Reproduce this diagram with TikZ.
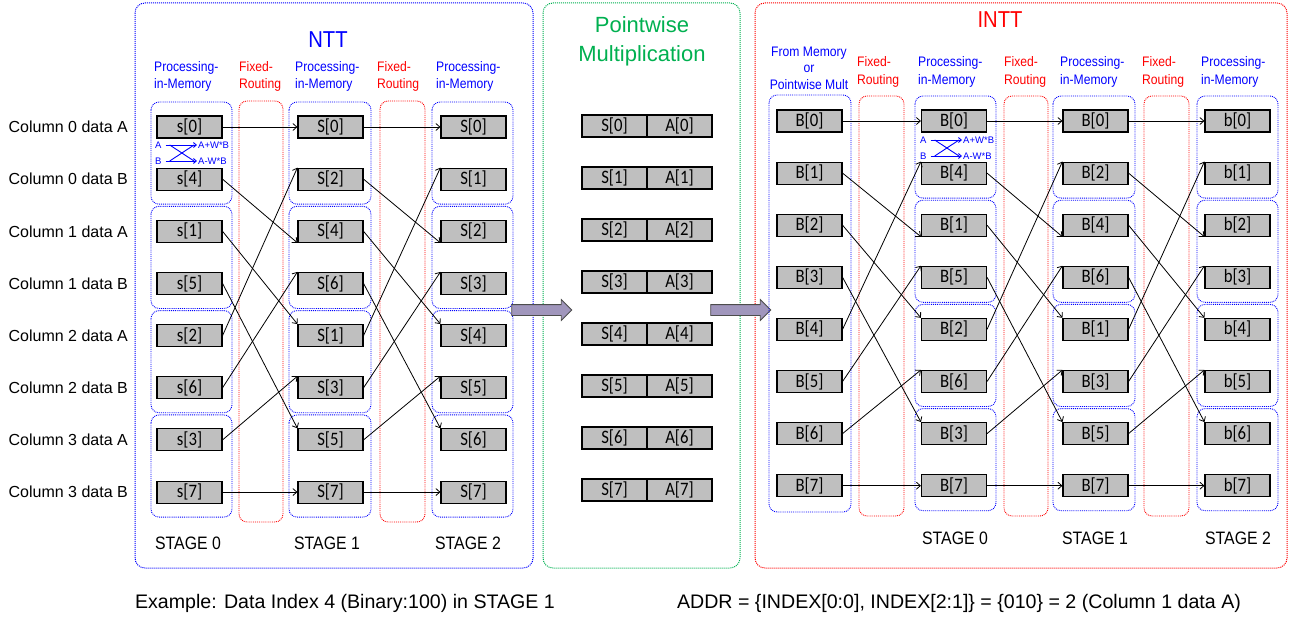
\documentclass[tikz,border=0pt]{standalone}
\usepackage{fontspec}
\setmainfont{Liberation Sans}
\newfontfamily\lblfont[FakeStretch=0.88]{Liberation Sans}
\newfontfamily\cellfont[FakeStretch=0.88]{Carlito}
\usetikzlibrary{arrows.meta,shapes.arrows}

\definecolor{cellgray}{RGB}{191,191,191}
\definecolor{pimblue}{RGB}{0,0,255}
\definecolor{frred}{RGB}{255,0,0}
\definecolor{pwgreen}{RGB}{0,176,80}
\definecolor{fatfill}{RGB}{160,150,188}

\begin{document}
\begin{tikzpicture}[x=1pt,y=-1pt,
  cellbox/.style={draw=black, line width=1.1pt, fill=cellgray, minimum width=65pt,
    minimum height=22pt, inner sep=0pt, font=\cellfont\fontsize{19}{19}\selectfont},
  pimgrp/.style={draw=pimblue, line width=0.9pt, densely dotted, rounded corners=8pt},
  frgrp/.style={draw=frred, line width=0.9pt, densely dotted, rounded corners=8pt},
  outerbox/.style={line width=1pt, densely dotted, rounded corners=10pt},
  link/.style={draw=black, line width=0.8pt, -{Straight Barb[length=4pt,width=7pt]}},
  hdr/.style={font=\lblfont\fontsize{13.8}{17.5}\selectfont, align=left,
    anchor=base west, inner sep=0pt},
  stagelbl/.style={font=\lblfont\fontsize{18}{18}\selectfont, anchor=base, inner sep=0pt},
  collbl/.style={font=\fontsize{16}{16}\selectfont, anchor=east, inner sep=0pt},
  bfl/.style={font=\fontsize{9.5}{9.5}\selectfont, text=pimblue, inner sep=1pt},
  bfarrow/.style={draw=pimblue, line width=0.9pt, -{Straight Barb[length=3pt,width=5pt]}},
  bfcross/.style={draw=pimblue, line width=0.9pt},
  fatarrow/.style={single arrow, draw=black!70, line width=0.8pt, fill=fatfill,
    minimum height=60pt, minimum width=20pt, single arrow head extend=5pt, inner sep=5pt},
  title/.style={font=\lblfont\fontsize{23}{23}\selectfont, anchor=base, inner sep=0pt},
  note/.style={font=\fontsize{19.6}{19.6}\selectfont, anchor=base, inner sep=0pt}
]
\useasboundingbox (0,0) rectangle (1294,618);

% ---------- outer frames ----------
\draw[outerbox, draw=pimblue] (135,3) rectangle (533,568);
\draw[outerbox, draw=pwgreen] (543,3) rectangle (740,568);
\draw[outerbox, draw=frred] (755,3) rectangle (1287,568);

\node[title, text=pimblue] (tntt) at (328,48) {NTT};
\node[title, text=frred] (tintt) at (1000,28) {INTT};
% multi-line nodes: the base anchor sits on the last line
\node[font=\fontsize{22}{29}\selectfont, text=pwgreen, align=center, anchor=base, inner sep=0pt]
  (tpw) at (642,62) {Pointwise\\Multiplication};

% ---------- row labels ----------
\foreach \t [count=\k from 0] in {Column 0 data A, Column 0 data B, Column 1 data A,
  Column 1 data B, Column 2 data A, Column 2 data B, Column 3 data A, Column 3 data B}{
  \pgfmathsetmacro\yy{127+52.15*\k}
  \node[collbl] (col-\k) at (128,\yy) {\t};
}

% ---------- NTT column headers ----------
\node[hdr, text=pimblue] (hn0) at (154,88.5) {Processing-\\in-Memory};
\node[hdr, text=frred] (hn1) at (239,88.5) {Fixed-\\Routing};
\node[hdr, text=pimblue] (hn2) at (295,88.5) {Processing-\\in-Memory};
\node[hdr, text=frred] (hn3) at (377,88.5) {Fixed-\\Routing};
\node[hdr, text=pimblue] (hn4) at (436,88.5) {Processing-\\in-Memory};

% ---------- NTT groups ----------
\foreach \g in {0,1,2,3}{
  \pgfmathsetmacro\ta{127+52.15*2*\g-25}
  \pgfmathsetmacro\tb{127+52.15*(2*\g+1)+25}
  \draw[pimgrp] (151,\ta) rectangle (232,\tb);
  \draw[pimgrp] (289,\ta) rectangle (371,\tb);
  \draw[pimgrp] (432,\ta) rectangle (513,\tb);
}
\draw[frgrp] (239,101) rectangle (283,522);
\draw[frgrp] (380,101) rectangle (425,522);

% ---------- NTT cells ----------
\foreach \idx [count=\k from 0] in {0,4,1,5,2,6,3,7}{
  \pgfmathsetmacro\yy{127+52.15*\k}
  \node[cellbox] (n0-\idx) at (189.5,\yy) {s[\idx]};
}
\foreach \idx [count=\k from 0] in {0,2,4,6,1,3,5,7}{
  \pgfmathsetmacro\yy{127+52.15*\k}
  \node[cellbox] (n1-\idx) at (330.5,\yy) {S[\idx]};
}
\foreach \k in {0,...,7}{
  \pgfmathsetmacro\yy{127+52.15*\k}
  \node[cellbox] (n2-\k) at (473.5,\yy) {S[\k]};
}

\foreach \i/\a in {0/west,4/south west,1/north west,5/north west,2/north west,
  6/north west,3/north west,7/west}
  \draw[link] (n0-\i.east) -- (n1-\i.\a);
\foreach \i/\a in {0/west,2/south west,4/north west,6/north west,1/north west,
  3/north west,5/north west,7/west}
  \draw[link] (n1-\i.east) -- (n2-\i.\a);

\node[stagelbl] (sn0) at (188,549.5) {STAGE 0};
\node[stagelbl] (sn1) at (327,549.5) {STAGE 1};
\node[stagelbl] (sn2) at (468,549.5) {STAGE 2};

% butterfly legend (NTT)
\node[bfl, anchor=west] (bA) at (154,145) {A};
\node[bfl, anchor=west] (bB) at (154,161) {B};
\node[bfl, anchor=west] (bS) at (197,145) {A+W*B};
\node[bfl, anchor=west] (bD) at (197,161) {A-W*B};
\draw[bfarrow] ([xshift=3pt]bA.east) -- (bS.west);
\draw[bfarrow] ([xshift=3pt]bB.east) -- (bD.west);
\draw[bfcross] ([xshift=7pt]bA.east) -- ([xshift=-3pt]bD.west);
\draw[bfcross] ([xshift=7pt]bB.east) -- ([xshift=-3pt]bS.west);

% ---------- pointwise multiplication ----------
\foreach \k in {0,...,7}{
  \pgfmathsetmacro\yy{126+52*\k}
  \node[cellbox] (ps-\k) at (614.5,\yy) {S[\k]};
  \node[cellbox] (pa-\k) at (679.5,\yy) {A[\k]};
}

\node[fatarrow] (fa1) at (539,310) {};
\node[fatarrow] (fa2) at (738,310) {};

% ---------- INTT column headers ----------
\node[font=\lblfont\fontsize{13.8}{17}\selectfont, text=pimblue, align=center,
  anchor=base, inner sep=0pt] (hi0) at (809,90) {From Memory\\or\\Pointwise Mult};
\node[hdr, text=frred] (hi1) at (857,84.5) {Fixed-\\Routing};
\node[hdr, text=pimblue] (hi2) at (918,84.5) {Processing-\\in-Memory};
\node[hdr, text=frred] (hi3) at (1004,84.5) {Fixed-\\Routing};
\node[hdr, text=pimblue] (hi4) at (1060,84.5) {Processing-\\in-Memory};
\node[hdr, text=frred] (hi5) at (1142,84.5) {Fixed-\\Routing};
\node[hdr, text=pimblue] (hi6) at (1201,84.5) {Processing-\\in-Memory};

% ---------- INTT groups ----------
\draw[pimgrp] (769,95) rectangle (851,512);
\foreach \g in {0,1,2,3}{
  \pgfmathsetmacro\ta{121+52.1*2*\g-25}
  \pgfmathsetmacro\tb{121+52.1*(2*\g+1)+25}
  \draw[pimgrp] (915,\ta) rectangle (996,\tb);
  \draw[pimgrp] (1053,\ta) rectangle (1135,\tb);
  \draw[pimgrp] (1197,\ta) rectangle (1278,\tb);
}
\draw[frgrp] (859,96) rectangle (904,516);
\draw[frgrp] (1004,96) rectangle (1048,516);
\draw[frgrp] (1144,96) rectangle (1189,516);

% ---------- INTT cells ----------
\foreach \k in {0,...,7}{
  \pgfmathsetmacro\yy{121+52.1*\k}
  \node[cellbox] (m-\k) at (809.5,\yy) {B[\k]};
  \node[cellbox] (i2-\k) at (1237.5,\yy) {b[\k]};
}
\foreach \idx [count=\k from 0] in {0,4,1,5,2,6,3,7}{
  \pgfmathsetmacro\yy{121+52.1*\k}
  \node[cellbox] (i0-\idx) at (954,\yy) {B[\idx]};
}
\foreach \idx [count=\k from 0] in {0,2,4,6,1,3,5,7}{
  \pgfmathsetmacro\yy{121+52.1*\k}
  \node[cellbox] (i1-\idx) at (1095.5,\yy) {B[\idx]};
}

\foreach \i/\a in {0/west,1/south west,2/north west,3/north west,4/north west,
  5/north west,6/north west,7/west}
  \draw[link] (m-\i.east) -- (i0-\i.\a);
\foreach \i/\a in {0/west,4/south west,1/north west,5/north west,2/north west,
  6/north west,3/north west,7/west}
  \draw[link] (i0-\i.east) -- (i1-\i.\a);
\foreach \i/\a in {0/west,2/south west,4/north west,6/north west,1/north west,
  3/north west,5/north west,7/west}
  \draw[link] (i1-\i.east) -- (i2-\i.\a);

\node[stagelbl] (si0) at (955,544.5) {STAGE 0};
\node[stagelbl] (si1) at (1095,544.5) {STAGE 1};
\node[stagelbl] (si2) at (1238,544.5) {STAGE 2};

% butterfly legend (INTT)
\node[bfl, anchor=west] (cA) at (919,140) {A};
\node[bfl, anchor=west] (cB) at (919,156) {B};
\node[bfl, anchor=west] (cS) at (962,140) {A+W*B};
\node[bfl, anchor=west] (cD) at (962,156) {A-W*B};
\draw[bfarrow] ([xshift=3pt]cA.east) -- (cS.west);
\draw[bfarrow] ([xshift=3pt]cB.east) -- (cD.west);
\draw[bfcross] ([xshift=7pt]cA.east) -- ([xshift=-3pt]cD.west);
\draw[bfcross] ([xshift=7pt]cB.east) -- ([xshift=-3pt]cS.west);

% ---------- notes ----------
\node[note] (ex) at (345,608) {Example: Data Index 4 (Binary:100) in STAGE 1};
\node[note] (addr) at (959,608) {ADDR = \{INDEX[0:0], INDEX[2:1]\} = \{010\} = 2 (Column 1 data A)};
\end{tikzpicture}
\end{document}
